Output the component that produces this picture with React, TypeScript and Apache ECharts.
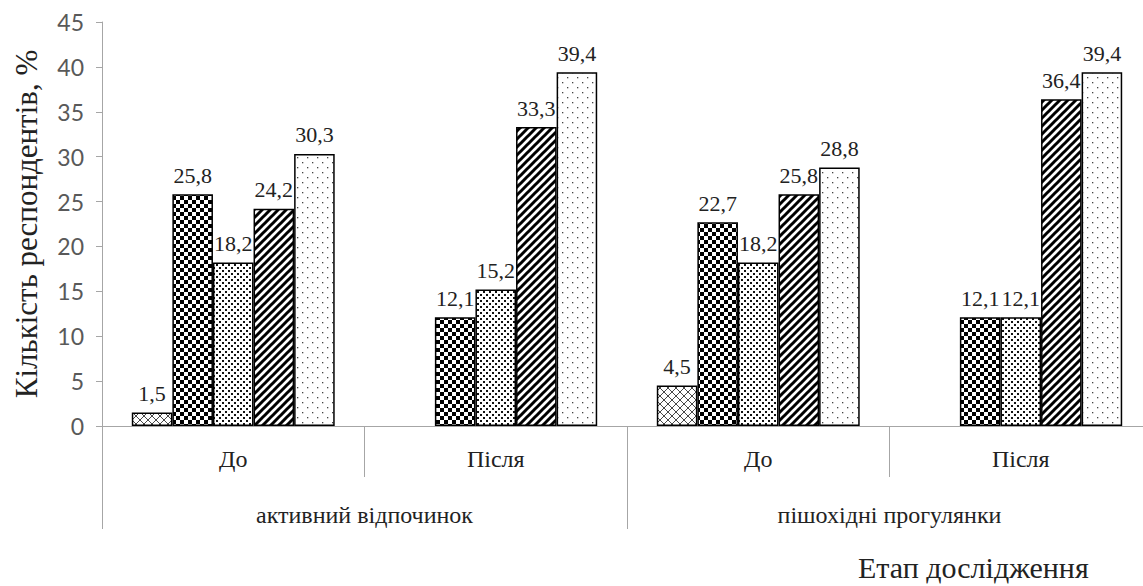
import React, { useEffect, useRef } from 'react';
import * as echarts from 'echarts';

const categories = ['До', 'Після', 'До', 'Після'];
const groups = ['активний відпочинок', 'пішохідні прогулянки'];
const series1 = [1.5, null, 4.5, null];
const series2 = [25.8, 12.1, 22.7, 12.1];
const series3 = [18.2, 15.2, 18.2, 12.1];
const series4 = [24.2, 33.3, 25.8, 36.4];
const series5 = [30.3, 39.4, 28.8, 39.4];
const yMin = 0;
const yMax = 45;
const yStep = 5;
const yTitle = 'Кількість респондентів, %';
const xTitle = 'Етап дослідження';

const SERIF = "'Liberation Serif', 'DejaVu Serif', serif";

type Draw = (ctx: CanvasRenderingContext2D, s: number) => void;

function tile(size: number, draw: Draw) {
  const c = document.createElement('canvas');
  c.width = size;
  c.height = size;
  const ctx = c.getContext('2d') as CanvasRenderingContext2D;
  ctx.fillStyle = '#ffffff';
  ctx.fillRect(0, 0, size, size);
  draw(ctx, size);
  return { image: c.toDataURL(), repeat: 'repeat', imageWidth: size, imageHeight: size };
}

export default function App() {
  const ref = useRef<HTMLDivElement>(null);
  useEffect(() => {
    if (!ref.current) return;
    const chart = echarts.init(ref.current, undefined, { renderer: 'svg' });

    const cross = tile(8, (ctx, s) => {
      ctx.strokeStyle = '#333';
      ctx.lineWidth = 0.9;
      ctx.beginPath();
      ctx.moveTo(0, s); ctx.lineTo(s, 0);
      ctx.moveTo(0, 0); ctx.lineTo(s, s);
      ctx.stroke();
    });
    const checker = tile(8, (ctx) => {
      ctx.fillStyle = '#000';
      ctx.fillRect(0, 0, 4, 4);
      ctx.fillRect(4, 4, 4, 4);
    });
    const denseDots = tile(6, (ctx) => {
      ctx.fillStyle = '#111';
      ctx.fillRect(0, 0, 2, 2);
      ctx.fillRect(3, 3, 2, 2);
    });
    const stripes = tile(8, (ctx, s) => {
      ctx.strokeStyle = '#000';
      ctx.lineWidth = 3;
      ctx.beginPath();
      ctx.moveTo(-1, s + 1); ctx.lineTo(s + 1, -1);
      ctx.moveTo(-s / 2 - 1, s / 2 + 1); ctx.lineTo(s / 2 + 1, -s / 2 - 1);
      ctx.moveTo(s / 2 - 1, s * 1.5 + 1); ctx.lineTo(s * 1.5 + 1, s / 2 - 1);
      ctx.stroke();
    });
    const sparseDots = tile(10, (ctx) => {
      ctx.fillStyle = '#444';
      ctx.fillRect(2, 2, 1.3, 1.3);
      ctx.fillRect(7, 7, 1.3, 1.3);
    });

    const fmt = (p: any) => {
      const v = p.value;
      if (v == null || v === 0) return '';
      return Number(v).toFixed(1).replace('.', ',');
    };

    const mk = (data: (number | null)[], color: any) => ({
      type: 'bar',
      data,
      xAxisIndex: 0,
      barGap: '0%',
      barCategoryGap: '22.7%',
      itemStyle: { color, borderColor: '#000', borderWidth: 1.5 },
      label: {
        show: true,
        position: 'top',
        distance: 8,
        formatter: fmt,
        fontFamily: SERIF,
        fontSize: 22,
        color: '#222',
      },
    });

    chart.setOption({
      animation: false,
      backgroundColor: '#ffffff',
      grid: { left: 102, top: 22, width: 1050, height: 404, outerBoundsMode: 'none', containLabel: false },
      xAxis: [
        {
          type: 'category',
          data: categories,
          position: 'bottom',
          axisLine: { show: true, lineStyle: { color: '#a6a6a6', width: 1 } },
          axisTick: { show: true, length: 51, interval: 0, lineStyle: { color: '#a6a6a6' } },
          axisLabel: {
            interval: 0,
            margin: 21,
            fontFamily: SERIF,
            fontSize: 24,
            color: '#222',
          },
        },
        {
          type: 'category',
          data: groups,
          position: 'bottom',
          axisLine: { show: false },
          axisTick: { show: true, length: 103, interval: 0, lineStyle: { color: '#a6a6a6' } },
          axisLabel: {
            interval: 0,
            margin: 77,
            fontFamily: SERIF,
            fontSize: 24,
            color: '#222',
          },
        },
      ],
      yAxis: {
        type: 'value',
        min: yMin,
        max: yMax,
        interval: yStep,
        name: yTitle,
        nameLocation: 'middle',
        nameRotate: 90,
        nameGap: 60,
        nameTextStyle: { fontFamily: SERIF, fontSize: 31, color: '#222' },
        axisLine: { show: true, lineStyle: { color: '#a6a6a6', width: 1 } },
        axisTick: { show: true, length: 6, lineStyle: { color: '#a6a6a6' } },
        splitLine: { show: false },
        axisLabel: { fontFamily: 'Lato', fontSize: 23, color: '#595959', margin: 18 },
      },
      graphic: [
        {
          type: 'text',
          left: 858,
          top: 552,
          style: { text: xTitle, fontFamily: SERIF, fontSize: 30, fill: '#222' },
        },
      ],
      series: [
        mk(series1, cross),
        mk(series2, checker),
        mk(series3, denseDots),
        mk(series4, stripes),
        mk(series5, sparseDots),
      ],
    });
    return () => chart.dispose();
  }, []);
  return (
    <div
      ref={ref}
      style={{ position: 'fixed', left: 0, top: 0, width: 1143, height: 586, background: '#fff' }}
    />
  );
}
